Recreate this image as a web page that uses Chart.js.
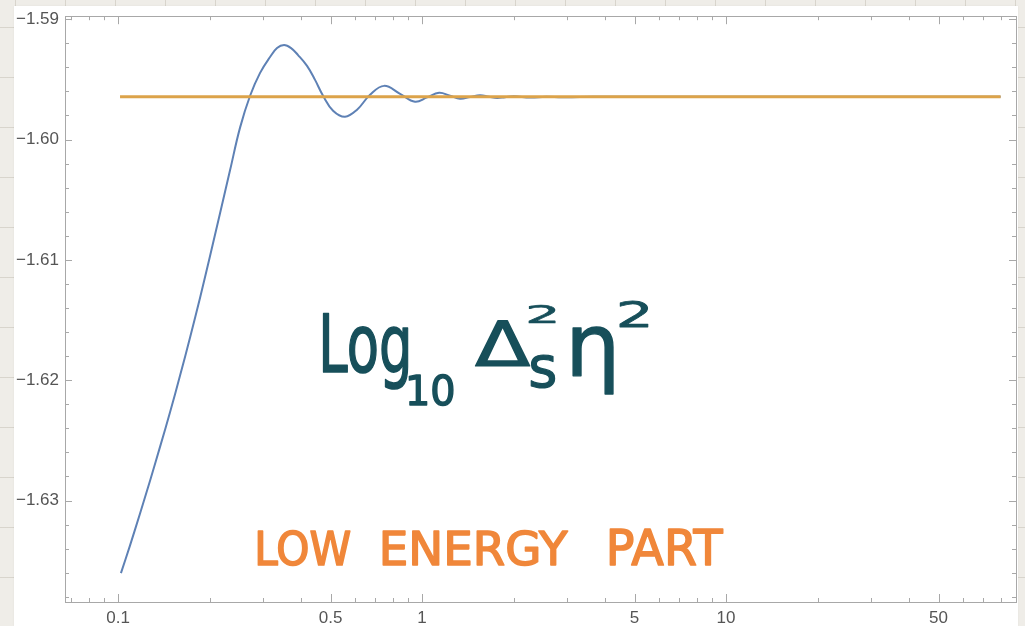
<!DOCTYPE html>
<html>
<head>
<meta charset="utf-8">
<script src="https://cdn.jsdelivr.net/npm/chart.js@4.4.1/dist/chart.umd.min.js"></script>
<style>
html, body { margin:0; padding:0; width:1025px; height:626px; overflow:hidden; }
body {
  background-color:#efede8;
  background-image:
    linear-gradient(to right, rgba(190,184,172,0.45) 1px, transparent 1px),
    linear-gradient(to bottom, rgba(190,184,172,0.45) 1px, transparent 1px);
  background-size:50px 50px;
  background-position:15px 27px;
  position:relative;
}
#card { position:absolute; left:14px; top:6px; width:1004px; height:620px; background:#ffffff; box-shadow:0 0 2px rgba(0,0,0,0.06); }
#chart { position:absolute; left:0; top:0; }
</style>
</head>
<body>
<div id="card"></div>
<canvas id="chart" width="1025" height="626"></canvas>
<script>
// ---- data ----
const xTickValues = [0.1, 0.5, 1, 5, 10, 50];
const xTickLabels = ["0.1", "0.5", "1", "5", "10", "50"];
const xMinorTickValues = [0.07, 0.08, 0.09, 0.2, 0.3, 0.4, 0.6, 0.7, 0.8, 0.9, 2, 3, 4, 6, 7, 8, 9, 20, 30, 40, 60, 70, 80];
const yTickValues = [-1.63, -1.62, -1.61, -1.60, -1.59];
const yTickLabels = ["\u22121.63", "\u22121.62", "\u22121.61", "\u22121.60", "\u22121.59"];
const yMinorTickValues = [-1.638, -1.636, -1.634, -1.632, -1.628, -1.626, -1.624, -1.622, -1.618, -1.616, -1.614, -1.612,
  -1.608, -1.606, -1.604, -1.602, -1.598, -1.596, -1.594, -1.592];

const curveX = [0.1022, 0.1095, 0.1181, 0.1274, 0.1374, 0.1483, 0.1600, 0.1725, 0.1861, 0.2007, 0.2165, 0.2335, 0.2519,
  0.2718, 0.2932, 0.3162, 0.3334, 0.3516, 0.3708, 0.3909, 0.4184, 0.4446, 0.4724, 0.5096, 0.5579, 0.6111, 0.6744,
  0.7499, 0.8465, 0.9484, 1.0386, 1.1375, 1.2362, 1.3335, 1.4384, 1.5515, 1.6613, 1.7653, 1.875, 2.007, 2.266,
  2.558, 2.887, 3.309, 4, 6, 10, 20, 40, 80];
const curveY = [-1.63603, -1.63372, -1.63107, -1.62835, -1.62554, -1.62264, -1.61959, -1.61645, -1.61314, -1.60967,
  -1.60612, -1.60256, -1.59901, -1.59636, -1.59446, -1.59314, -1.59240, -1.59215, -1.59240, -1.59298, -1.59388,
  -1.59504, -1.59636, -1.59760, -1.59810, -1.59752, -1.59628, -1.59554, -1.59620, -1.59686, -1.59649, -1.59612,
  -1.59636, -1.59661, -1.59647, -1.59632, -1.59645, -1.59655, -1.59648, -1.59641, -1.59651, -1.59645, -1.59649,
  -1.59646, -1.59645, -1.59645, -1.59645, -1.59645, -1.59645, -1.59645];

const limitX = [0.1015, 80];
const limitY = [-1.59645, -1.59645];

const xRange = [0.0669, 89.9];
const yRange = [-1.63843, -1.58975];

// ---- annotations (handwritten notes) ----
const notes = [
  { text: "LOW",    left: 258, right: 350, top: 530, baseline: 565, color: "#f0873a", stroke: 1.6 },
  { text: "ENERGY", left: 383, right: 568, top: 531, baseline: 565, color: "#f0873a", stroke: 1.6 },
  { text: "PART",   left: 610, right: 723, top: 528, baseline: 565, color: "#f0873a", stroke: 1.6 },
  { text: "Log",    left: 323, right: 408, top: 313, baseline: 372, color: "#174f5a", stroke: 1.4 },
  { text: "10",     left: 409, right: 453, top: 375, baseline: 405, color: "#174f5a", stroke: 1.4 },
  { text: "\u0394", left: 475, right: 530, top: 320, baseline: 366, color: "#174f5a", stroke: 1.4 },
  { text: "2",      left: 529, right: 555, top: 304, baseline: 323, color: "#174f5a", stroke: 1.0 },
  { text: "s",      left: 531, right: 555, top: 355, baseline: 387, color: "#174f5a", stroke: 1.2 },
  { text: "\u03b7", left: 573, right: 613, top: 327, baseline: 376, color: "#174f5a", stroke: 1.4 },
  { text: "2",      left: 620, right: 648, top: 300, baseline: 327, color: "#174f5a", stroke: 1.0 }
];

const frameColor = "#a8a8a8";

const framePlugin = {
  id: "frame",
  afterDraw(chart) {
    const c = chart.ctx, a = chart.chartArea, sx = chart.scales.x, sy = chart.scales.y;
    c.save();
    c.strokeStyle = frameColor;
    c.lineWidth = 1;
    c.strokeRect(Math.round(a.left) + 0.5, Math.round(a.top) + 0.5, Math.round(a.right - a.left), Math.round(a.bottom - a.top));
    c.beginPath();
    const xt = (v, len) => {
      const p = Math.round(sx.getPixelForValue(v)) + 0.5;
      c.moveTo(p, a.bottom); c.lineTo(p, a.bottom - len);
      c.moveTo(p, a.top); c.lineTo(p, a.top + len);
    };
    const yt = (v, len) => {
      const p = Math.round(sy.getPixelForValue(v)) + 0.5;
      c.moveTo(a.left, p); c.lineTo(a.left + len, p);
      c.moveTo(a.right, p); c.lineTo(a.right - len, p);
    };
    xTickValues.forEach(v => xt(v, 8));
    xMinorTickValues.forEach(v => xt(v, 4));
    yTickValues.forEach(v => yt(v, 7));
    yMinorTickValues.forEach(v => yt(v, 4));
    c.stroke();
    c.restore();
  }
};

const notesPlugin = {
  id: "notes",
  afterDraw(chart) {
    const c = chart.ctx;
    notes.forEach(n => {
      c.save();
      c.font = "100px 'DejaVu Sans'";
      const m = c.measureText(n.text);
      const w = m.actualBoundingBoxLeft + m.actualBoundingBoxRight;
      const sxk = (n.right - n.left) / w;
      const syk = (n.baseline - n.top) / m.actualBoundingBoxAscent;
      c.translate(n.left, n.baseline);
      c.scale(sxk, syk);
      c.fillStyle = n.color;
      c.strokeStyle = n.color;
      c.lineJoin = "round";
      c.lineCap = "round";
      c.lineWidth = n.stroke / ((sxk + syk) / 2);
      c.fillText(n.text, m.actualBoundingBoxLeft, 0);
      c.strokeText(n.text, m.actualBoundingBoxLeft, 0);
      c.restore();
    });
  }
};

new Chart(document.getElementById("chart").getContext("2d"), {
  type: "line",
  data: {
    datasets: [
      {
        label: "limit",
        data: limitX.map((x, i) => ({ x: x, y: limitY[i] })),
        borderColor: "#dca34a",
        borderWidth: 3,
        pointRadius: 0,
        tension: 0
      },
      {
        label: "curve",
        data: curveX.map((x, i) => ({ x: x, y: curveY[i] })),
        borderColor: "#5e81b5",
        borderWidth: 2,
        pointRadius: 0,
        tension: 0.4
      }
    ]
  },
  options: {
    responsive: false,
    animation: false,
    devicePixelRatio: 1,
    layout: { padding: { top: 13, right: 9, left: 0, bottom: 0 } },
    plugins: { legend: { display: false }, tooltip: { enabled: false } },
    scales: {
      x: {
        type: "logarithmic",
        min: xRange[0],
        max: xRange[1],
        afterBuildTicks(s) { s.ticks = xTickValues.map(v => ({ value: v })); },
        afterFit(s) { s.height = 24; },
        grid: { display: false, drawTicks: false },
        border: { display: false },
        ticks: {
          autoSkip: false, maxRotation: 0, minRotation: 0, padding: 6,
          color: "#555555",
          font: { family: "'Liberation Sans', Arial, sans-serif", size: 17 },
          callback: (v, i) => xTickLabels[i]
        }
      },
      y: {
        type: "linear",
        min: yRange[0],
        max: yRange[1],
        afterBuildTicks(s) { s.ticks = yTickValues.map(v => ({ value: v })); },
        afterFit(s) { s.width = 65; },
        grid: { display: false, drawTicks: false },
        border: { display: false },
        ticks: {
          autoSkip: false, padding: 6,
          color: "#555555",
          font: { family: "'Liberation Sans', Arial, sans-serif", size: 17 },
          callback: (v, i) => yTickLabels[i]
        }
      }
    }
  },
  plugins: [framePlugin, notesPlugin]
});
</script>
</body>
</html>
